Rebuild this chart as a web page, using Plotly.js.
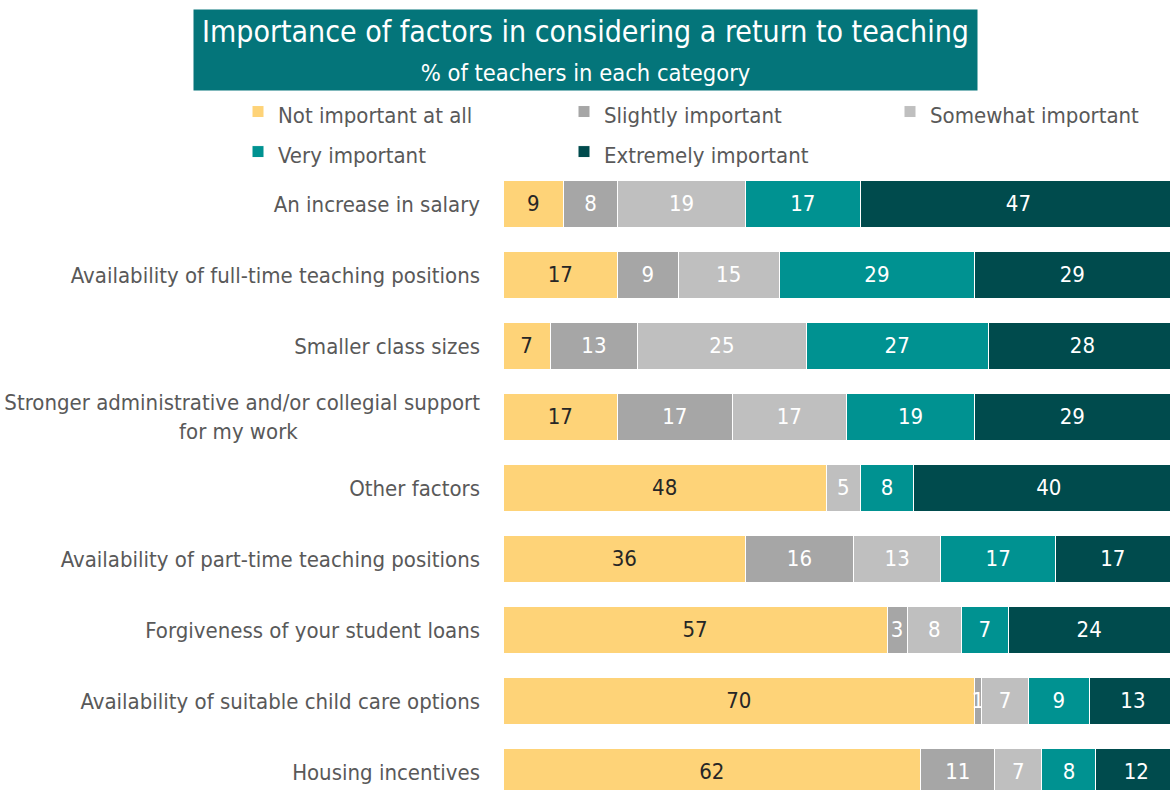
<!DOCTYPE html>
<html>
<head>
<meta charset="utf-8">
<script src="https://cdn.plot.ly/plotly-3.0.1.min.js"></script>
<style>html,body{margin:0;padding:0;background:#fff;}#chart{width:1170px;height:790px;}</style>
</head>
<body>
<div id="chart"></div>
<script>
const categories = [
  "An increase in salary",
  "Availability of full-time teaching positions",
  "Smaller class sizes",
  "Stronger administrative and/or collegial support<br>for my work" + "\u00A0".repeat(29),
  "Other factors",
  "Availability of part-time teaching positions",
  "Forgiveness of your student loans",
  "Availability of suitable child care options",
  "Housing incentives"
];
const seriesNames = ["Not important at all", "Slightly important", "Somewhat important", "Very important", "Extremely important"];
const notImportant = [9, 17, 7, 17, 48, 36, 57, 70, 62];
const slightly     = [8, 9, 13, 17, 0, 16, 3, 1, 11];
const somewhat     = [19, 15, 25, 17, 5, 13, 8, 7, 7];
const veryImp      = [17, 29, 27, 19, 8, 17, 7, 9, 8];
const extremely    = [47, 29, 28, 29, 40, 17, 24, 13, 12];

const FONT = "'Liberation Sans Narrow', 'DejaVu Sans Condensed', 'Roboto Condensed', sans-serif";
const colors = ["#FED378", "#A6A6A6", "#BFBFBF", "#009291", "#004B4D"];
const textColors = ["#262626", "#ffffff", "#ffffff", "#ffffff", "#ffffff"];
const allSeries = [notImportant, slightly, somewhat, veryImp, extremely];

const traces = allSeries.map((vals, i) => ({
  type: "bar",
  orientation: "h",
  name: '<span style="font-size:22px">' + seriesNames[i] + '</span>',
  x: vals,
  y: categories,
  text: vals.map(v => v > 0 ? String(v) : ""),
  textposition: "inside",
  insidetextanchor: "middle",
  constraintext: "none",
  textfont: {family: FONT, size: 22, color: textColors[i]},
  marker: {color: colors[i], line: {color: "#ffffff", width: 1}},
  hoverinfo: "x+y+name"
}));

const layout = {
  width: 1170,
  height: 790,
  barmode: "stack",
  bargap: 0.34,
  paper_bgcolor: "#ffffff",
  plot_bgcolor: "#ffffff",
  font: {family: FONT, color: "#595959"},
  margin: {l: 503, r: 0, t: 168, b: 0, autoexpand: false},
  xaxis: {range: [0, 99], showgrid: false, zeroline: false, showticklabels: false, showline: false, fixedrange: true},
  yaxis: {
    type: "category",
    autorange: false,
    range: [8.254, -0.507],
    showgrid: false, zeroline: false, showline: false,
    ticks: "",
    ticklabelstandoff: 22,
    tickfont: {family: FONT, size: 22, color: "#595959"}
  },
  showlegend: true,
  legend: {
    orientation: "h",
    traceorder: "normal",
    x: -0.3973, xanchor: "left",
    y: 1.131, yanchor: "top",
    entrywidth: 281,
    entrywidthmode: "pixels",
    font: {family: FONT, size: 28.5, color: "#595959"},
    bgcolor: "rgba(0,0,0,0)"
  },
  annotations: [{
    xref: "paper", yref: "paper",
    x: 0.1237, y: 1.1897,
    xanchor: "center", yanchor: "middle",
    width: 783, height: 80,
    borderpad: 0,
    bgcolor: "#04757A",
    showarrow: false,
    align: "center",
    text: '<span style="font-size:30px">Importance of factors in considering a return to teaching</span><br><span style="font-size:23.5px">% of teachers in each category</span>',
    font: {family: FONT, size: 30, color: "#ffffff"}
  }]
};

Plotly.newPlot("chart", traces, layout, {displayModeBar: false, staticPlot: true});
</script>
</body>
</html>
